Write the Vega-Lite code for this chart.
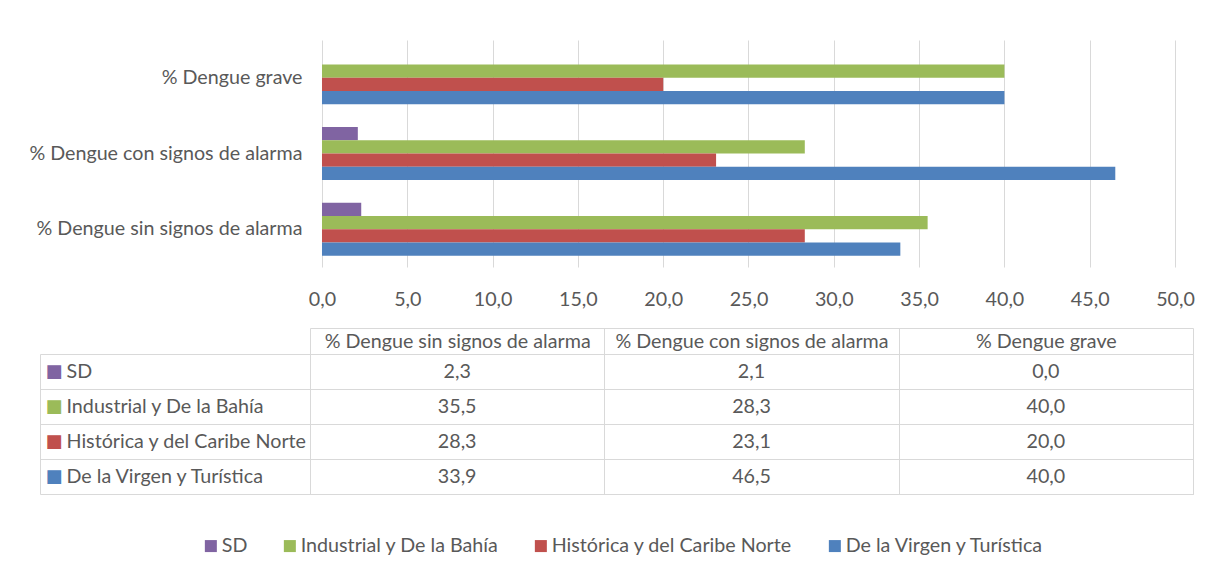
{
  "$schema": "https://vega.github.io/schema/vega-lite/v6.json",
  "padding": {"left": 28, "top": 40, "right": 21, "bottom": 5},
  "background": "white",
  "config": {
    "locale": {"number": {"decimal": ",", "thousands": ".", "grouping": [3], "currency": ["", ""]}},
    "font": "Lato",
    "view": {"stroke": null},
    "axis": {"labelFont": "Lato", "labelFontSize": 19.7, "labelColor": "#595959", "gridColor": "#D9D9D9", "domainColor": "#D9D9D9", "tickColor": "#D9D9D9", "title": null}
  },
  "data": {"values": [
    {"categoria": "% Dengue sin signos de alarma", "serie": "SD", "valor": 2.3},
    {"categoria": "% Dengue sin signos de alarma", "serie": "Industrial y De la Bahía", "valor": 35.5},
    {"categoria": "% Dengue sin signos de alarma", "serie": "Histórica y del Caribe Norte", "valor": 28.3},
    {"categoria": "% Dengue sin signos de alarma", "serie": "De la Virgen y Turística", "valor": 33.9},
    {"categoria": "% Dengue con signos de alarma", "serie": "SD", "valor": 2.1},
    {"categoria": "% Dengue con signos de alarma", "serie": "Industrial y De la Bahía", "valor": 28.3},
    {"categoria": "% Dengue con signos de alarma", "serie": "Histórica y del Caribe Norte", "valor": 23.1},
    {"categoria": "% Dengue con signos de alarma", "serie": "De la Virgen y Turística", "valor": 46.5},
    {"categoria": "% Dengue grave", "serie": "SD", "valor": 0.0},
    {"categoria": "% Dengue grave", "serie": "Industrial y De la Bahía", "valor": 40.0},
    {"categoria": "% Dengue grave", "serie": "Histórica y del Caribe Norte", "valor": 20.0},
    {"categoria": "% Dengue grave", "serie": "De la Virgen y Turística", "valor": 40.0}
  ]},
  "spacing": 18,
  "vconcat": [
    {
      "width": 883,
      "height": 227,
      "mark": {"type": "bar"},
      "encoding": {
        "y": {"field": "categoria", "type": "nominal",
              "sort": ["% Dengue grave", "% Dengue con signos de alarma", "% Dengue sin signos de alarma"],
              "scale": {"paddingInner": 0.3, "paddingOuter": 0.15},
              "axis": {"domain": false, "ticks": false, "labelPadding": 8, "labelLimit": 400, "title": null}},
        "yOffset": {"field": "serie", "type": "nominal",
              "sort": ["SD", "Industrial y De la Bahía", "Histórica y del Caribe Norte", "De la Virgen y Turística"],
              "scale": {"paddingInner": 0, "paddingOuter": 0}},
        "x": {"field": "valor", "type": "quantitative",
              "scale": {"domain": [-0.703, 51.055], "nice": false, "zero": false},
              "axis": {"values": [0, 5, 10, 15, 20, 25, 30, 35, 40, 45, 50], "format": ".1f", "domain": false, "ticks": false, "grid": true, "labelPadding": 22, "title": null}},
        "color": {"field": "serie", "type": "nominal",
              "scale": {"domain": ["SD", "Industrial y De la Bahía", "Histórica y del Caribe Norte", "De la Virgen y Turística"],
                        "range": ["#8064A2", "#9BBB59", "#C0504D", "#4F81BD"]},
              "legend": {"orient": "none", "legendX": -109, "legendY": 496, "direction": "horizontal", "title": null, "symbolType": "square", "symbolSize": 144, "symbolStrokeWidth": 0, "labelFontSize": 19.7, "labelColor": "#595959", "labelFont": "Lato", "columnPadding": 32, "labelOffset": 1, "labelLimit": 400}}
      }
    },
    {
      "width": 883,
      "height": 140,
      "view": {"stroke": "#D9D9D9"},
      "layer": [
        {
          "mark": {"type": "text", "fontSize": 19.7, "color": "#595959", "font": "Lato"},
          "encoding": {
            "x": {"field": "categoria", "type": "nominal",
                  "sort": ["% Dengue sin signos de alarma", "% Dengue con signos de alarma", "% Dengue grave"],
                  "scale": {"type": "band", "paddingInner": 0, "paddingOuter": 0},
                  "axis": {"orient": "top", "offset": 26, "tickSize": -26, "tickBand": "extent", "grid": true, "domain": true, "ticks": true, "labelAngle": 0, "labelPadding": 13, "labelBaseline": "middle", "labelAlign": "center", "labelLimit": 400, "title": null}},
            "y": {"field": "serie", "type": "nominal",
                  "sort": ["SD", "Industrial y De la Bahía", "Histórica y del Caribe Norte", "De la Virgen y Turística"],
                  "scale": {"type": "band", "paddingInner": 0, "paddingOuter": 0},
                  "axis": {"orient": "left", "offset": 270, "tickSize": -270, "tickBand": "extent", "grid": true, "domain": true, "ticks": true, "labelAlign": "left", "labelPadding": 244, "labelBaseline": "middle", "labelLimit": 400, "title": null}},
            "text": {"field": "valor", "type": "quantitative", "format": ".1f"}
          }
        },
        {
          "mark": {"type": "text", "opacity": 0},
          "encoding": {
            "y": {"field": "serie", "type": "nominal",
                  "sort": ["SD", "Industrial y De la Bahía", "Histórica y del Caribe Norte", "De la Virgen y Turística"],
                  "scale": {"type": "band", "paddingInner": 0, "paddingOuter": 0},
                  "axis": {"orient": "left", "offset": 270, "ticks": false, "domain": false, "grid": false, "labelExpr": "'■'", "labelFont": "DejaVu Sans", "labelFontSize": 18, "labelAlign": "left", "labelPadding": -5, "labelBaseline": "middle", "title": null,
                           "labelColor": {"condition": [
                             {"test": "datum.value === 'SD'", "value": "#8064A2"},
                             {"test": "datum.value === 'Industrial y De la Bahía'", "value": "#9BBB59"},
                             {"test": "datum.value === 'Histórica y del Caribe Norte'", "value": "#C0504D"}
                           ], "value": "#4F81BD"}}},
            "text": {"field": "valor", "type": "quantitative"}
          }
        }
      ],
      "resolve": {"axis": {"y": "independent"}}
    }
  ]
}
